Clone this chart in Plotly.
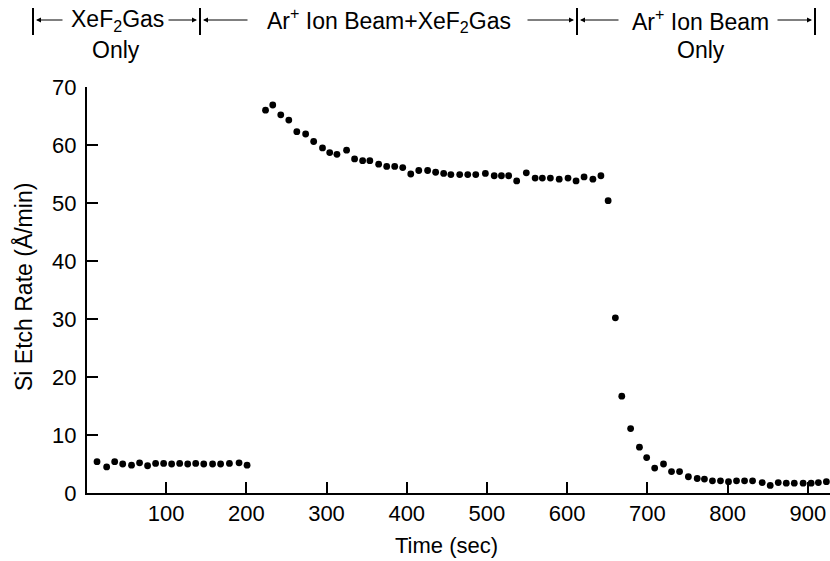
import plotly.graph_objects as go

# ---- Data ----
time_gas = [14, 26, 36, 46, 57, 67, 77, 87, 97, 107, 117, 127, 137, 147, 158, 168, 179, 191, 201]
rate_gas = [5.4, 4.5, 5.4, 5.0, 4.8, 5.2, 4.7, 5.1, 5.1, 5.0, 5.1, 5.0, 5.1, 5.0, 5.0, 5.0, 5.1, 5.2, 4.8]

time_both = [224, 233, 243, 253, 263, 274, 284, 295, 304, 313, 325, 335, 345, 354, 365, 375, 385,
             395, 405, 415, 426, 436, 446, 455, 466, 476, 486, 498, 509, 518, 527, 537, 549, 560,
             569, 579, 590, 601, 611, 621, 632, 642]
rate_both = [66.0, 66.9, 65.2, 64.3, 62.3, 61.9, 60.6, 59.5, 58.7, 58.4, 59.1, 57.6, 57.3, 57.3,
             56.7, 56.3, 56.3, 56.1, 55.0, 55.6, 55.6, 55.3, 55.1, 54.9, 54.9, 54.9, 54.9, 55.1,
             54.7, 54.7, 54.7, 53.8, 55.2, 54.3, 54.3, 54.3, 54.1, 54.3, 53.8, 54.5, 54.1, 54.7]

time_ion = [651, 660, 668, 679, 690, 699, 709, 720, 730, 740, 751, 762, 771, 781, 791, 801, 811,
            821, 831, 843, 853, 863, 873, 883, 894, 904, 913, 923]
rate_ion = [50.4, 30.2, 16.7, 11.1, 7.9, 6.1, 4.3, 5.0, 3.7, 3.7, 2.8, 2.5, 2.4, 2.1, 2.1, 1.95,
            2.1, 2.1, 2.1, 1.8, 1.3, 1.8, 1.7, 1.7, 1.7, 1.7, 1.8, 1.95]

x_ticks = [100, 200, 300, 400, 500, 600, 700, 800, 900]
y_ticks = [0, 10, 20, 30, 40, 50, 60, 70]

FONT = "Liberation Sans, Arial, Helvetica, sans-serif"
FS = 22
W, H = 830, 561
ML, MR, MT, MB = 87, 0, 87, 68
PW, PH = W - ML - MR, H - MT - MB


def px(xp):
    return (xp - ML) / PW


def py(yp):
    return (H - MB - yp) / PH


fig = go.Figure()
for t, r in [(time_gas, rate_gas), (time_both, rate_both), (time_ion, rate_ion)]:
    fig.add_trace(go.Scatter(x=t, y=r, mode="markers",
                             marker=dict(color="black", size=6.8, line=dict(width=0)),
                             showlegend=False, cliponaxis=False))

fig.update_xaxes(range=[1.5, 927.5], tickvals=x_ticks, ticks="inside", ticklen=11,
                 tickwidth=2, tickcolor="black", showline=True, linewidth=2, linecolor="black",
                 showgrid=False, zeroline=False,
                 tickfont=dict(size=FS, color="black", family=FONT))
fig.update_yaxes(range=[0, 70], tickvals=y_ticks, ticks="inside", ticklen=11,
                 tickwidth=2, tickcolor="black", showline=True, linewidth=2, linecolor="black",
                 showgrid=False, zeroline=False, ticklabelstandoff=4,
                 tickfont=dict(size=FS, color="black", family=FONT))

annotations = []
shapes = []


def text(xp, yp, s, size=FS):
    annotations.append(dict(x=px(xp), y=py(yp), xref="paper", yref="paper", text=s,
                            showarrow=False, xanchor="center", yanchor="middle",
                            font=dict(size=size, color="black", family=FONT)))


def arrow(tip, tail, yp=20):
    annotations.append(dict(x=px(tip), y=py(yp), xref="paper", yref="paper", text="",
                            showarrow=True, ax=tail - tip, ay=0, arrowhead=2, arrowsize=1.0,
                            arrowwidth=1, arrowcolor="black"))


def bar(xp):
    shapes.append(dict(type="line", xref="paper", yref="paper", x0=px(xp), x1=px(xp),
                       y0=py(8), y1=py(35), line=dict(color="black", width=2)))


for b in [33, 200, 577, 815]:
    bar(b)

arrow(36, 64)
arrow(197, 167)
arrow(203, 249)
arrow(574, 526)
arrow(580, 620)
arrow(812, 776)

text(117, 20, "XeF<sub>2</sub>Gas", 23)
text(116, 50, "Only", 23)
text(389, 20, "Ar<sup>+</sup> Ion Beam+XeF<sub>2</sub>Gas", 23)
text(700, 20, "Ar<sup>+</sup> Ion Beam", 23)
text(701, 50, "Only", 23)

# axis titles
text(446, 545, "Time (sec)")
annotations.append(dict(x=px(23), y=py(287), xref="paper", yref="paper",
                        text="Si Etch Rate (Å/min)", showarrow=False, textangle=-90,
                        xanchor="center", yanchor="middle",
                        font=dict(size=23, color="black", family=FONT)))

fig.update_layout(width=W, height=H, margin=dict(l=ML, r=MR, t=MT, b=MB, pad=0),
                  plot_bgcolor="white", paper_bgcolor="white",
                  annotations=annotations, shapes=shapes)

fig.write_html("out.html", config={"displayModeBar": False},
               post_script="document.body.style.margin='0';document.body.style.overflow='hidden';")
